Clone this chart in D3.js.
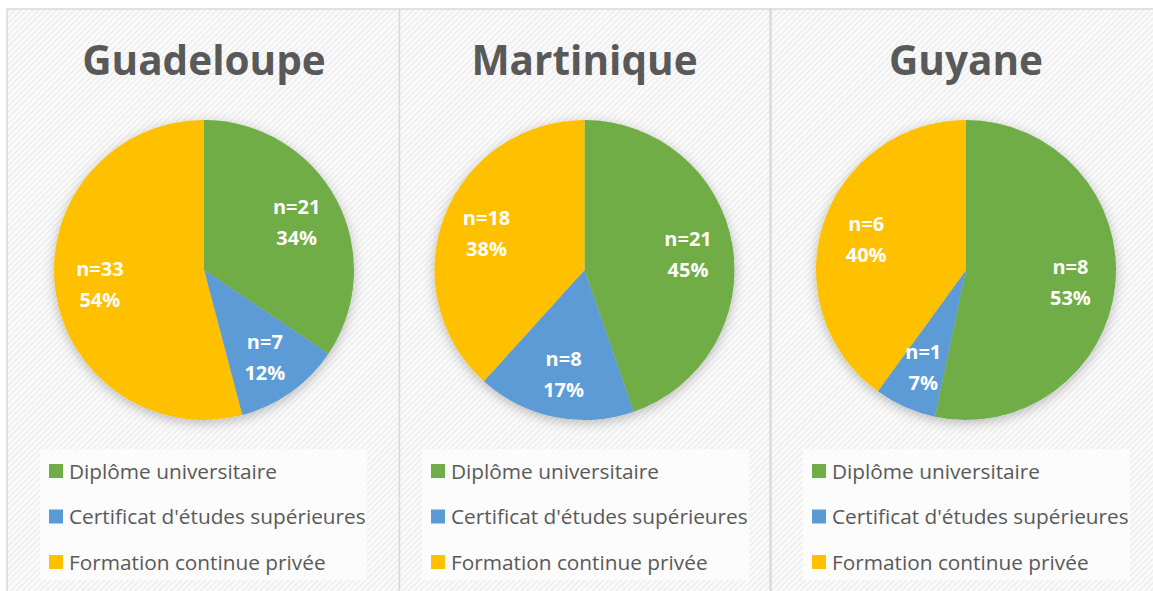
<!DOCTYPE html>
<html>
<head>
<meta charset="utf-8">
<script src="https://cdn.jsdelivr.net/npm/d3@7"></script>
<style>
  html, body { margin: 0; padding: 0; background: #ffffff; }
  svg { display: block; }
</style>
</head>
<body>
<svg id="chart" width="1153" height="591"></svg>
<script>
// ---- data ----
const regions = ["Guadeloupe", "Martinique", "Guyane"];
const categories = ["Diplôme universitaire", "Certificat d'études supérieures", "Formation continue privée"];
const guadeloupeValues = [21, 7, 33];
const martiniqueValues = [21, 8, 18];
const guyaneValues = [8, 1, 6];
const guadeloupePercents = ["34%", "12%", "54%"];
const martiniquePercents = ["45%", "17%", "38%"];
const guyanePercents = ["53%", "7%", "40%"];
const colors = ["#70ad47", "#5b9bd5", "#ffc000"];

const seriesValues = [guadeloupeValues, martiniqueValues, guyaneValues];
const seriesPercents = [guadeloupePercents, martiniquePercents, guyanePercents];

// ---- layout ----
const panels = [
  { x0: 7, x1: 399.5, cx: 204 },
  { x0: 399.5, x1: 770, cx: 584.5 },
  { x0: 771, x1: 1160, cx: 966 }
];
const legendBoxes = [40, 422, 803];
const cy = 270, R = 150;
const font = "'Open Sans', 'Noto Sans', sans-serif";

const svg = d3.select("#chart");
const defs = svg.append("defs");

// diagonal stripe pattern
const pat = defs.append("pattern")
  .attr("id", "stripes").attr("patternUnits", "userSpaceOnUse")
  .attr("width", 4.2).attr("height", 4.2)
  .attr("patternTransform", "rotate(45)");
pat.append("rect").attr("width", 4.2).attr("height", 4.2).attr("fill", "#fcfcfc");
pat.append("rect").attr("width", 2).attr("height", 4.2).attr("fill", "#efefef");

// soft shadow
const f = defs.append("filter").attr("id", "shadow")
  .attr("x", "-20%").attr("y", "-20%").attr("width", "140%").attr("height", "140%");
f.append("feDropShadow").attr("dx", 0).attr("dy", 3).attr("stdDeviation", 6)
  .attr("flood-color", "#000").attr("flood-opacity", 0.25);

// panels
panels.forEach((p, i) => {
  const g = svg.append("g");
  g.append("rect").attr("x", p.x0).attr("y", 9).attr("width", p.x1 - p.x0).attr("height", 600)
    .attr("fill", "url(#stripes)").attr("stroke", "#d9d9d9").attr("stroke-width", 1.5);

  // title
  g.append("text").attr("x", p.cx).attr("y", 75).attr("text-anchor", "middle")
    .attr("font-family", font).attr("font-weight", 700).attr("font-size", 40.5)
    .attr("fill", "#595959").text(regions[i]);

  // pie
  const vals = seriesValues[i];
  const pie = d3.pie().sort(null).value(d => d)(vals);
  const arc = d3.arc().innerRadius(0).outerRadius(R);
  const labelArc = d3.arc().innerRadius(R * 0.7).outerRadius(R * 0.7);
  const pg = g.append("g").attr("transform", `translate(${p.cx},${cy})`);
  pg.append("g").attr("filter", "url(#shadow)")
    .selectAll("path").data(pie).join("path")
    .attr("d", arc).attr("fill", (d, j) => colors[j]);

  const lab = pg.selectAll("g.lab").data(pie).join("g").attr("class", "lab")
    .attr("transform", d => `translate(${labelArc.centroid(d)})`);
  lab.append("text").attr("text-anchor", "middle").attr("y", -7)
    .attr("font-family", font).attr("font-weight", 700).attr("font-size", 20)
    .attr("fill", "#ffffff").text(d => "n=" + d.data);
  lab.append("text").attr("text-anchor", "middle").attr("y", 24)
    .attr("font-family", font).attr("font-weight", 700).attr("font-size", 20)
    .attr("fill", "#ffffff").text((d, j) => seriesPercents[i][j]);

  // legend
  const lx = legendBoxes[i];
  g.append("rect").attr("x", lx).attr("y", 449).attr("width", 327).attr("height", 131)
    .attr("fill", "#fdfdfd").attr("opacity", 0.85);
  const yScale = d3.scalePoint().domain(categories).range([471, 562]);
  const li = g.selectAll("g.leg").data(categories).join("g").attr("class", "leg")
    .attr("transform", d => `translate(${lx + 9},${yScale(d)})`);
  li.append("rect").attr("x", 0).attr("y", -7).attr("width", 14).attr("height", 14)
    .attr("fill", (d, j) => colors[j]);
  li.append("text").attr("x", 20).attr("y", 7.5)
    .attr("font-family", font).attr("font-size", 20.8).attr("fill", "#595959")
    .text(d => d);
});
</script>
</body>
</html>
